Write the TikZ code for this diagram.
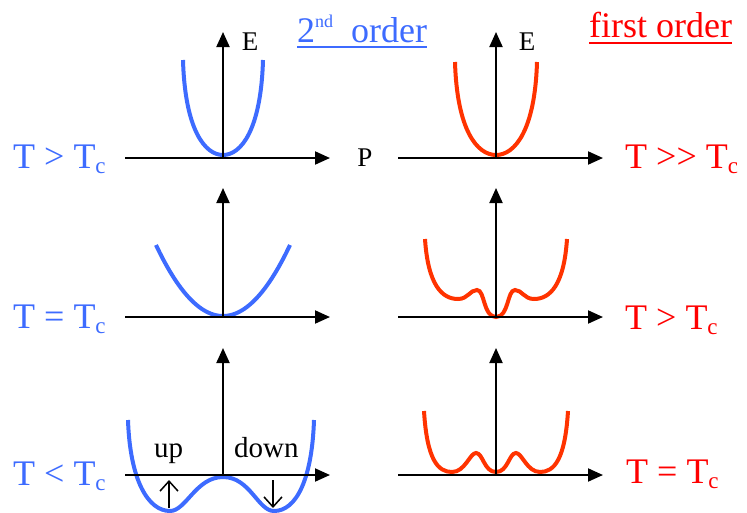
\documentclass[tikz,border=0pt]{standalone}
\usepackage{fontspec}
\setmainfont{Liberation Serif}
\usetikzlibrary{arrows.meta}
\definecolor{myblue}{HTML}{3D6BFF}
\definecolor{curvered}{HTML}{FF3300}
\definecolor{textred}{HTML}{FF0000}
\newcommand\Tsub{\raisebox{-5pt}{\fontsize{23}{23}\selectfont c}}
\begin{document}
\begin{tikzpicture}[x=1pt,y=-1pt,
  axis/.style={line width=2pt,-{Triangle[length=15pt,width=13pt]}},
  bluecurve/.style={line width=4pt,myblue},
  redcurve/.style={line width=4pt,curvered},
  big/.style={font=\fontsize{36}{40}\selectfont,inner sep=0pt,anchor=base west},
  small/.style={font=\fontsize{27}{30}\selectfont,inner sep=0pt},
  med/.style={font=\fontsize{29}{32}\selectfont,inner sep=0pt,anchor=base west},
  spin/.style={line width=1.5pt,-{Straight Barb[length=10pt,width=18pt]}}]
\useasboundingbox (0,0) rectangle (747,512);

% ---- curves (left, blue)
\draw[bluecurve] (183,60) .. controls (185,130) and (205,155) .. (223,155)
  .. controls (241,155) and (261,130) .. (263,60);
\draw[bluecurve] plot[domain=-67:67,samples=60,smooth] ({223+\x},{316-71*(\x/67)^2});
\draw[bluecurve] (128,420) .. controls (130,480) and (148,511) .. (170,511)
  .. controls (186,511) and (196,477) .. (223,477)
  .. controls (250,477) and (258,511) .. (274,511)
  .. controls (296,511) and (312,480) .. (314,420);

% ---- curves (right, red)
\draw[redcurve] (455,62) .. controls (457,130) and (477,155) .. (496,155)
  .. controls (515,155) and (535,130) .. (537,62);
\draw[redcurve] (425,239) .. controls (428,285) and (442,299) .. (458,299)
  .. controls (468,299) and (470,290) .. (477,290)
  .. controls (485,290) and (483,317) .. (496,317)
  .. controls (509,317) and (507,290) .. (515,290)
  .. controls (522,290) and (524,299) .. (534,299)
  .. controls (550,299) and (564,285) .. (567,239);
\draw[redcurve] (424,411) .. controls (427,460) and (438,472) .. (452,472)
  .. controls (465,472) and (470,453) .. (476,453)
  .. controls (483,453) and (484,472) .. (496,472)
  .. controls (508,472) and (509,453) .. (516,453)
  .. controls (522,453) and (527,472) .. (540,472)
  .. controls (554,472) and (565,460) .. (568,411);

% ---- axes
\foreach \n/\cx/\ox/\tx in {L/223/125/330, R/496/398/603}{
  \coordinate (\n1o) at (\ox,158); \coordinate (\n1x) at (\tx,158);
  \coordinate (\n1b) at (\cx,158); \coordinate (\n1y) at (\cx,32);
  \coordinate (\n2o) at (\ox,317); \coordinate (\n2x) at (\tx,317);
  \coordinate (\n2b) at (\cx,317); \coordinate (\n2y) at (\cx,188);
  \coordinate (\n3o) at (\ox,475); \coordinate (\n3x) at (\tx,475);
  \coordinate (\n3b) at (\cx,475); \coordinate (\n3y) at (\cx,348);
}
\foreach \n in {L,R}{
  \foreach \r in {1,2,3}{
    \draw[axis] (\n\r o) -- (\n\r x);
    \draw[axis] (\n\r b) -- (\n\r y);
  }
}

% ---- spin arrows
\coordinate (ua) at (169,508); \coordinate (ub) at (169,480);
\coordinate (da) at (273,480); \coordinate (db) at (273,508);
\draw[spin] (ua) -- (ub);
\draw[spin] (da) -- (db);

% ---- axis labels
\node[small] (E1) at (250,42) {E};
\node[small] (E2) at (527,42) {E};
\node[small] (P) at (365,158) {P};
\node[med] (up) at (154,457) {up};
\node[med] (down) at (234,457) {down};

% ---- titles
\node[big,myblue] (t2) at (297,42) {2\raisebox{15pt}{\fontsize{18}{18}\selectfont nd}\ \ order};
\draw[myblue,line width=1.5pt] ([yshift=-5pt]t2.base west) -- ([yshift=-5pt]t2.base east);
\node[big,textred] (t1) at (589,37) {first order};
\draw[textred,line width=1.5pt] ([yshift=-6pt]t1.base west) -- ([yshift=-6pt]t1.base east);

% ---- temperature labels
\node[big,myblue] (lb1) at (13,168) {T > T\Tsub};
\node[big,myblue] (lb2) at (13,328) {T = T\Tsub};
\node[big,myblue] (lb3) at (13,485) {T < T\Tsub};
\node[big,textred] (lr1) at (625,168) {T >\kern0pt> T\Tsub};
\node[big,textred] (lr2) at (625,329) {T > T\Tsub};
\node[big,textred] (lr3) at (626,483) {T = T\Tsub};
\end{tikzpicture}
\end{document}
